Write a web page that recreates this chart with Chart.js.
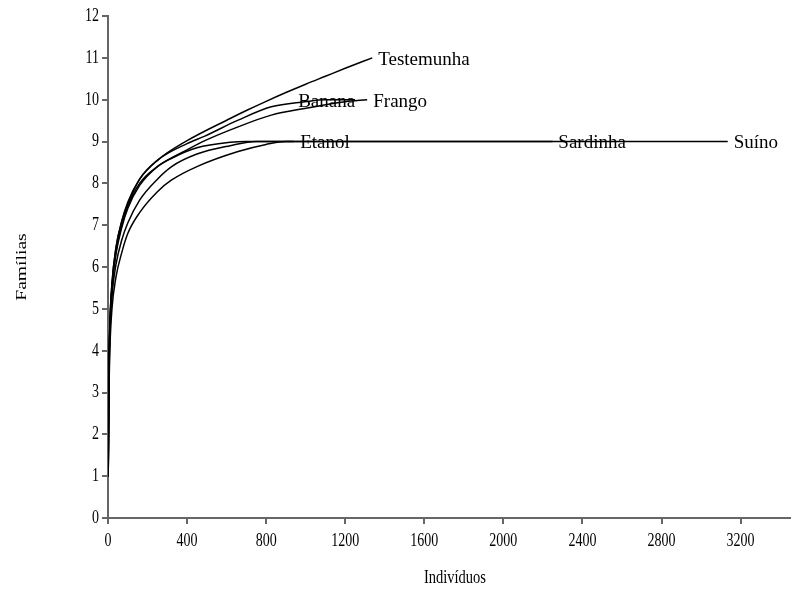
<!DOCTYPE html>
<html>
<head>
<meta charset="utf-8">
<script src="https://cdn.jsdelivr.net/npm/chart.js@4"></script>
<style>
html,body{margin:0;padding:0;background:#fff;}
canvas{display:block;}
</style>
</head>
<body>
<canvas id="c" width="791" height="591"></canvas>
<script>
// ---- data ----
const seriesNames = ['Testemunha', 'Banana', 'Frango', 'Etanol', 'Sardinha', 'Suíno'];

const testemunhaX = [1, 5, 10, 20, 40, 70, 100, 160, 250, 400, 618, 700, 800, 900, 1000, 1100, 1200, 1337];
const testemunhaY = [1, 3.6, 4.7, 5.6, 6.45, 7.1, 7.55, 8.1, 8.55, 9.02, 9.55, 9.74, 9.96, 10.17, 10.37, 10.56, 10.75, 11];

const bananaX = [1, 5, 10, 20, 40, 70, 100, 160, 250, 400, 490, 658, 826, 995, 1100, 1250];
const bananaY = [1, 3.6, 4.7, 5.6, 6.45, 7.1, 7.5, 8.1, 8.55, 8.95, 9.13, 9.51, 9.83, 9.95, 10, 10];

const frangoX = [1, 5, 10, 20, 40, 70, 100, 160, 250, 400, 490, 658, 826, 995, 1200, 1311];
const frangoY = [1, 3.5, 4.6, 5.5, 6.35, 7.0, 7.45, 8.0, 8.4, 8.8, 9.02, 9.35, 9.63, 9.79, 9.95, 10];

const etanolX = [1, 5, 10, 20, 40, 70, 100, 160, 250, 322, 450, 618, 700, 940];
const etanolY = [1, 3.5, 4.6, 5.5, 6.3, 6.95, 7.4, 7.95, 8.4, 8.6, 8.85, 8.98, 9.0, 9];

const sardinhaX = [1, 5, 10, 20, 40, 70, 100, 160, 250, 322, 450, 618, 750, 2250];
const sardinhaY = [1, 3.3, 4.4, 5.3, 6.05, 6.65, 7.05, 7.6, 8.1, 8.4, 8.7, 8.9, 9.0, 9];

const suinoX = [1, 5, 10, 20, 40, 70, 100, 160, 250, 322, 450, 658, 800, 900, 3135];
const suinoY = [1, 3.0, 4.1, 5.0, 5.75, 6.35, 6.8, 7.3, 7.8, 8.08, 8.4, 8.76, 8.93, 9.0, 9];

// label anchor positions (data units)
const labelX = [1367, 962, 1342, 972, 2278, 3165];
const labelY = [11, 10, 10, 9, 9, 9];

const xTicks = [0, 400, 800, 1200, 1600, 2000, 2400, 2800, 3200];
const yTicks = [0, 1, 2, 3, 4, 5, 6, 7, 8, 9, 10, 11, 12];
const xTitle = 'Indivíduos';
const yTitle = 'Famílias';

// ---- build ----
const allX = [testemunhaX, bananaX, frangoX, etanolX, sardinhaX, suinoX];
const allY = [testemunhaY, bananaY, frangoY, etanolY, sardinhaY, suinoY];

const datasets = seriesNames.map((name, i) => ({
  label: name,
  data: allX[i].map((x, j) => ({ x: x, y: allY[i][j] })),
  borderColor: '#000',
  borderWidth: 1.5,
  pointRadius: 0,
  fill: false,
  cubicInterpolationMode: 'monotone'
}));

const FONT = '"Liberation Serif", "Times New Roman", serif';

function stretchedText(ctx, text, x, y, align, size, sx, sy, rot) {
  ctx.save();
  ctx.translate(x, y);
  if (rot) ctx.rotate(rot);
  ctx.scale(sx, sy);
  ctx.font = size + 'px ' + FONT;
  ctx.textAlign = align;
  ctx.textBaseline = 'middle';
  ctx.fillStyle = '#000';
  ctx.fillText(text, 0, 0);
  ctx.restore();
}

const textPlugin = {
  id: 'texts',
  afterDraw(chart) {
    const ctx = chart.ctx;
    const xs = chart.scales.x, ys = chart.scales.y;
    xTicks.forEach(v => stretchedText(ctx, String(v), xs.getPixelForValue(v), 541, 'center', 14, 1, 1.35));
    yTicks.forEach(v => stretchedText(ctx, String(v), 99, ys.getPixelForValue(v), 'right', 14, 1, 1.35));
    const area = chart.chartArea;
    stretchedText(ctx, xTitle, (area.left + area.right) / 2 + 6, 578, 'center', 14.5, 1, 1.35);
    stretchedText(ctx, yTitle, 22, (area.top + area.bottom) / 2, 'center', 14.5, 1.35, 1, -Math.PI / 2);
    seriesNames.forEach((name, i) => {
      stretchedText(ctx, name, xs.getPixelForValue(labelX[i]), ys.getPixelForValue(labelY[i]) + 2, 'left', 19, 1, 1);
    });
  }
};

new Chart(document.getElementById('c'), {
  type: 'line',
  data: { datasets },
  options: {
    responsive: false,
    animation: false,
    layout: { padding: { left: 0, top: 16, right: 1, bottom: 0 } },
    plugins: { legend: { display: false }, tooltip: { enabled: false } },
    scales: {
      x: {
        type: 'linear',
        min: 0, max: 3450,
        ticks: { display: true, autoSkip: false, maxRotation: 0, color: 'rgba(0,0,0,0)', font: { size: 14, family: FONT } },
        grid: { drawOnChartArea: false, drawTicks: true, tickLength: 6, color: '#666', lineWidth: 2 },
        border: { display: true, color: '#666', width: 2 },
        afterBuildTicks(s) { s.ticks = xTicks.map(v => ({ value: v })); },
        afterFit(s) { s.height = 73; s.paddingLeft = 0; s.paddingRight = 0; }
      },
      y: {
        type: 'linear',
        min: 0, max: 12,
        ticks: { display: true, autoSkip: false, color: 'rgba(0,0,0,0)', font: { size: 14, family: FONT } },
        grid: { drawOnChartArea: false, drawTicks: true, tickLength: 6, color: '#666', lineWidth: 2 },
        border: { display: true, color: '#666', width: 2 },
        afterBuildTicks(s) { s.ticks = yTicks.map(v => ({ value: v })); },
        afterFit(s) { s.width = 108; s.paddingTop = 0; s.paddingBottom = 0; }
      }
    }
  },
  plugins: [textPlugin]
});
</script>
</body>
</html>
